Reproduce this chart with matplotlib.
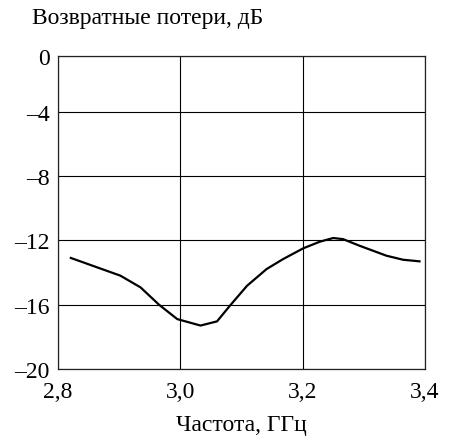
import matplotlib.pyplot as plt
import matplotlib as mpl

mpl.rcParams['font.family'] = ['Liberation Serif', 'DejaVu Serif']
mpl.rcParams['font.size'] = 17

# частота, ГГц
freq = [2.821, 2.902, 2.935, 2.965, 2.995, 3.033, 3.060, 3.081, 3.109, 3.141,
        3.168, 3.201, 3.228, 3.250, 3.266, 3.293, 3.337, 3.364, 3.391]
# возвратные потери, дБ
loss = [-13.1, -14.2, -14.93, -16.0, -16.9, -17.3, -17.04, -16.07, -14.83, -13.79,
        -13.17, -12.50, -12.09, -11.86, -11.93, -12.34, -12.96, -13.21, -13.31]

xticks = [2.8, 3.0, 3.2, 3.4]
xlabels = ['2,8', '3,0', '3,2', '3,4']
# the top of the frame in the original sits a bit below 0 dB
y_top = -0.55
yticks = [-20, -16, -12, -8, -4, y_top]
ylabels = ['–20', '–16', '–12', '–8', '–4', '0']

fig = plt.figure(figsize=(4.49, 4.39), dpi=100)
ax = fig.add_axes([58 / 449, 1 - 370 / 439, 367 / 449, 313 / 439])

ax.plot(freq, loss, color='black', lw=1.6)

ax.set_xlim(2.8, 3.4)
ax.set_ylim(-20, y_top)
ax.set_xticks(xticks)
ax.set_xticklabels(xlabels)
ax.set_yticks(yticks)
ax.set_yticklabels(ylabels)
ax.tick_params(axis='y', length=0, pad=6)
ax.tick_params(axis='x', length=0, pad=9)
ax.grid(True, color='black', lw=0.8)
for s in ax.spines.values():
    s.set_linewidth(0.9)
    s.set_color('#222222')

fig.text(32 / 449, 1 - 24 / 439, 'Возвратные потери, дБ', ha='left', va='baseline')
ax.set_xlabel('Частота, ГГц', labelpad=8)

fig.savefig('out.png', dpi=100)
